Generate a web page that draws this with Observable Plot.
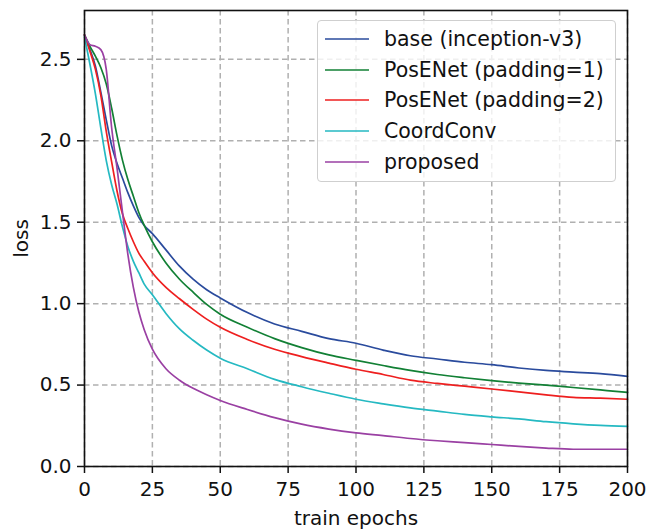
<!DOCTYPE html>
<html>
<head>
<meta charset="utf-8">
<script src="https://cdn.jsdelivr.net/npm/d3@7"></script>
<script src="https://cdn.jsdelivr.net/npm/@observablehq/plot@0.6"></script>
<style>
  body { margin: 0; background: #fff; font-family: "DejaVu Sans", sans-serif; }
  #wrap { position: relative; width: 649px; height: 532px; }
  #legend { position: absolute; left: 317px; top: 20px; width: 299px; height: 162px;
    border: 1px solid #cfcfcf; border-radius: 4px; background: rgba(255,255,255,0.8);
    box-sizing: border-box; }
  .row { position: absolute; left: 0; height: 24px; display: flex; align-items: center; }
  .row svg { margin-left: 7px; }
  .row span { margin-left: 15px; font-size: 20.5px; color: #111; white-space: nowrap; }
</style>
</head>
<body>
<div id="wrap"><div id="chart"></div><div id="legend"></div></div>
<script>
const epochs = [0,2,4,6,8,10,12,14,16,18,20,22,25,30,35,40,45,50,60,70,80,90,100,110,120,130,140,150,160,170,180,190,200];
const base      = [2.65,2.56,2.46,2.30,2.13,1.97,1.86,1.77,1.68,1.60,1.53,1.48,1.43,1.33,1.23,1.15,1.085,1.035,0.945,0.875,0.83,0.785,0.757,0.715,0.68,0.66,0.64,0.625,0.605,0.59,0.58,0.57,0.553];
const posenet1  = [2.65,2.58,2.52,2.45,2.35,2.20,2.03,1.88,1.76,1.66,1.56,1.48,1.38,1.25,1.15,1.07,0.995,0.935,0.855,0.785,0.73,0.685,0.652,0.62,0.59,0.565,0.545,0.527,0.512,0.50,0.485,0.47,0.455];
const posenet2  = [2.65,2.55,2.44,2.28,2.06,1.87,1.69,1.55,1.46,1.38,1.31,1.26,1.19,1.10,1.03,0.965,0.905,0.855,0.78,0.72,0.675,0.635,0.597,0.565,0.53,0.51,0.493,0.476,0.458,0.44,0.425,0.42,0.413];
const coordconv = [2.64,2.47,2.29,2.08,1.88,1.73,1.61,1.47,1.35,1.26,1.19,1.12,1.055,0.94,0.845,0.775,0.715,0.665,0.60,0.535,0.49,0.45,0.413,0.385,0.36,0.34,0.32,0.305,0.292,0.275,0.262,0.252,0.246];
const proposed  = [2.65,2.59,2.58,2.56,2.44,2.08,1.83,1.56,1.30,1.10,0.95,0.84,0.72,0.60,0.53,0.48,0.44,0.405,0.35,0.30,0.26,0.23,0.207,0.19,0.172,0.158,0.147,0.135,0.123,0.113,0.106,0.106,0.106];

const seriesNames = ["base (inception-v3)","PosENet (padding=1)","PosENet (padding=2)","CoordConv","proposed"];
const seriesColors = ["#2a4b9d","#128035","#ee1f1f","#25b9c2","#9a40a3"];
const xTicks = [0,25,50,75,100,125,150,175,200];
const yTicks = [0,0.5,1.0,1.5,2.0,2.5];

const allSeries = [base, posenet1, posenet2, coordconv, proposed];
const data = [];
allSeries.forEach((vals, i) => vals.forEach((v, j) => data.push({series: seriesNames[i], epoch: epochs[j], loss: v})));

const grid = {stroke: "#b0b0b0", strokeOpacity: 1, strokeWidth: 1.5, strokeDasharray: "5.5,3.5"};

const chart = Plot.plot({
  width: 649, height: 532,
  marginLeft: 84, marginRight: 22, marginTop: 10, marginBottom: 66,
  style: {fontFamily: "DejaVu Sans", fontSize: "20px", color: "#111", background: "white"},
  x: {domain: [0, 200]},
  y: {domain: [0, 2.8]},
  color: {domain: seriesNames, range: seriesColors},
  marks: [
    Plot.gridX(xTicks, grid),
    Plot.gridY(yTicks, grid),
    Plot.line(data, {x: "epoch", y: "loss", z: "series", stroke: "series", strokeWidth: 1.7, curve: "monotone-x"}),
    Plot.axisX(xTicks, {tickSize: 7, tickPadding: 8, tickFormat: d => String(d), fontSize: 20,
      label: "train epochs", labelAnchor: "center", labelArrow: "none", labelOffset: 58, strokeWidth: 1.5}),
    Plot.axisY(yTicks, {tickSize: 7, tickPadding: 6, tickFormat: d => d.toFixed(1), fontSize: 20,
      label: "loss", labelAnchor: "center", labelArrow: "none", labelOffset: 71, strokeWidth: 1.5}),
    Plot.frame({stroke: "#111", strokeWidth: 1.6})
  ]
});
document.getElementById("chart").appendChild(chart);

const legend = document.getElementById("legend");
const rowTops = [6, 37, 67, 98, 129];
seriesNames.forEach((name, i) => {
  const row = document.createElement("div");
  row.className = "row";
  row.style.top = rowTops[i] + "px";
  row.innerHTML = `<svg width="44" height="4"><line x1="0" x2="44" y1="2" y2="2" stroke="${seriesColors[i]}" stroke-width="1.7"/></svg><span>${name}</span>`;
  legend.appendChild(row);
});
</script>
</body>
</html>
